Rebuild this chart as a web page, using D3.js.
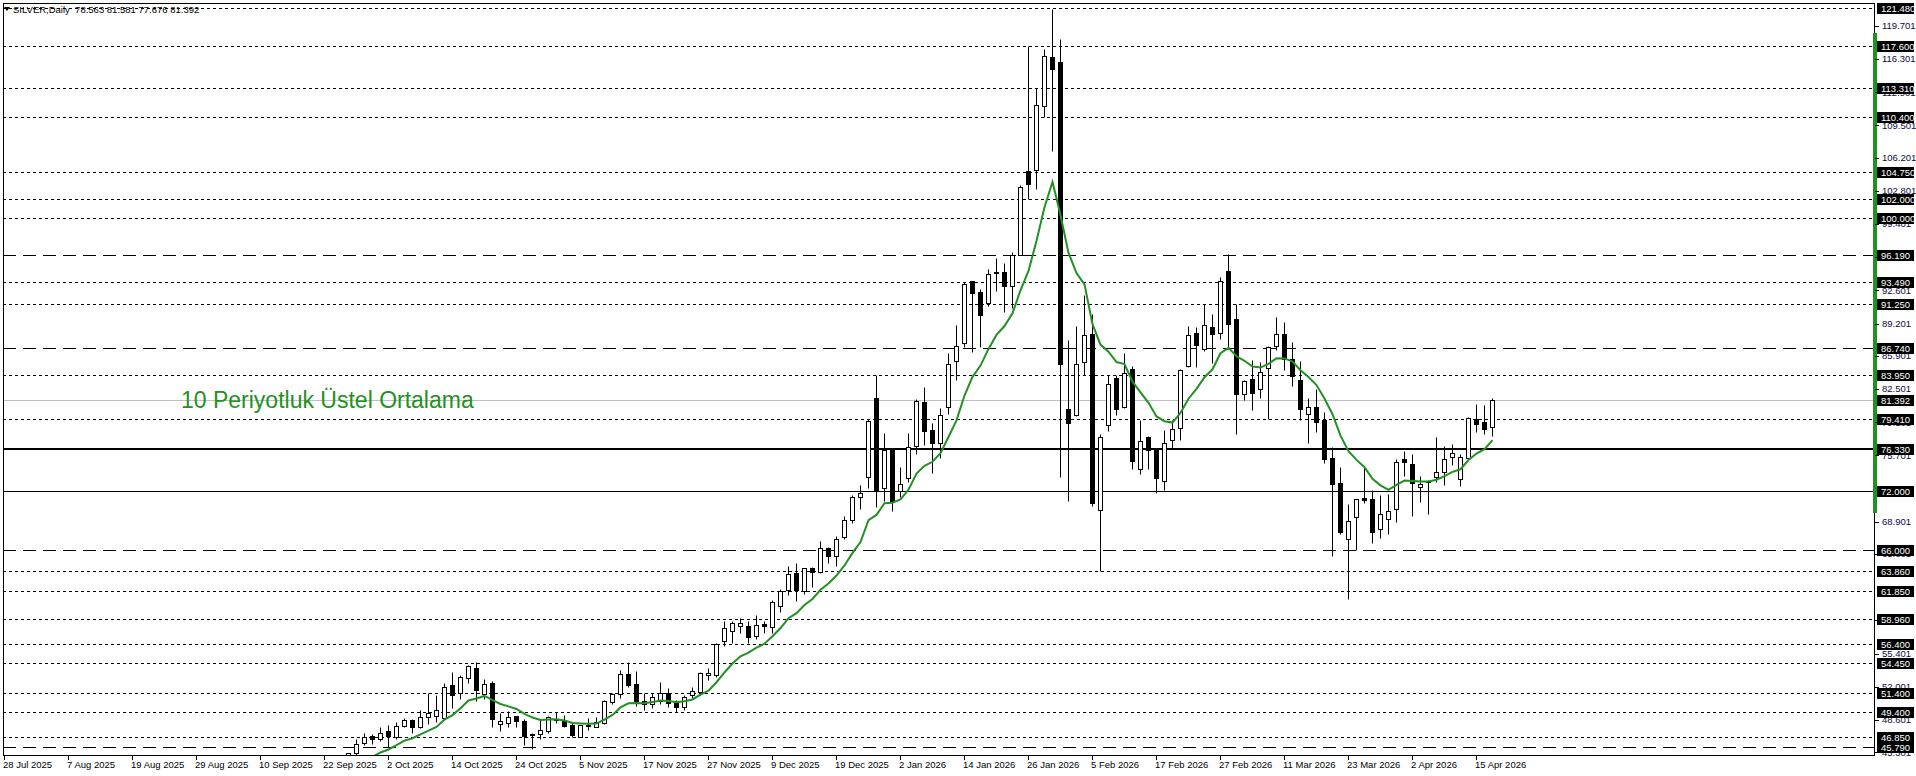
<!DOCTYPE html>
<html>
<head>
<meta charset="utf-8">
<script src="https://cdn.jsdelivr.net/npm/d3@7"></script>
<style>
  html, body { margin: 0; padding: 0; background: #fff; overflow: hidden; }
  svg { display: block; font-family: "Liberation Sans", Arial, sans-serif; }
</style>
</head>
<body>
<svg id="chart" width="1916" height="776"></svg>
<script>
// bar 0 = 28 Jul 2025, one bar per trading day; data starts at bar 32
const firstBar = 32;

const opens = [
  41.0, 41.3, 41.7, 42.3, 42.6, 42.7, 42.0, 41.8, 43.1, 43.9, 44.1,
  44.1, 45.18, 46.20, 46.92, 46.61, 47.43, 46.89, 47.98, 48.59, 47.84,
  48.87, 49.04, 48.76, 52.18, 51.39, 52.86, 53.92, 51.29, 52.35, 48.22,
  48.32, 49.00, 48.49, 47.10, 47.13, 47.50, 48.59, 48.56, 48.05, 46.89,
  47.95, 47.91, 48.32, 50.44, 51.22, 53.30, 52.28, 50.57, 50.20, 50.50,
  51.39, 50.30, 49.90, 51.12, 51.43, 53.17, 53.20, 56.72, 57.74, 58.22,
  58.25, 57.20, 58.43, 58.15, 60.23, 61.91, 63.61, 61.80, 64.13, 63.72,
  66.18, 65.43, 67.37, 69.04, 71.40, 73.45, 81.54, 72.32, 76.28, 72.01,
  73.41, 76.67, 81.18, 78.33, 77.01, 80.65, 85.39, 87.24, 93.53, 92.46,
  91.33, 94.40, 94.47, 93.03, 96.25, 104.78, 104.97, 111.48, 116.52, 116.03,
  80.46, 79.80, 85.27, 88.10, 70.06, 78.84, 83.59, 80.65, 84.58, 74.33,
  77.58, 76.28, 73.07, 77.23, 78.53, 84.89, 88.27, 86.63, 88.85, 88.27,
  94.58, 89.70, 82.02, 83.52, 82.46, 84.68, 86.90, 88.10, 85.60, 83.45,
  79.90, 80.68, 79.32, 75.46, 72.90, 67.10, 69.42, 71.30, 71.19, 68.19,
  69.14, 70.17, 75.32, 74.81, 72.42, 72.95, 73.52, 74.03, 75.50, 73.24,
  75.39, 79.42, 79.08, 78.563
];
const highs = [
  41.6, 41.9, 42.5, 42.9, 43.1, 42.9, 42.3, 43.3, 44.2, 44.5, 44.4,
  45.25, 46.61, 47.23, 47.13, 47.84, 48.08, 48.35, 48.83, 48.70, 49.58,
  51.39, 51.15, 52.35, 53.51, 53.20, 54.19, 54.50, 52.76, 52.55, 49.31,
  49.48, 49.05, 48.70, 47.30, 48.59, 49.00, 49.38, 49.07, 48.25, 48.08,
  48.76, 48.94, 50.64, 51.39, 53.71, 54.50, 53.61, 51.32, 51.32, 52.45,
  51.84, 50.60, 51.20, 52.01, 53.50, 53.88, 56.51, 58.77, 58.70, 59.00,
  58.77, 59.35, 58.73, 60.88, 62.01, 64.37, 64.64, 64.13, 64.30, 66.96,
  66.35, 67.44, 69.49, 71.64, 72.66, 79.42, 83.89, 77.95, 76.30, 74.55,
  77.96, 81.48, 82.73, 79.02, 80.53, 86.22, 89.06, 93.41, 93.55, 92.77,
  94.74, 95.87, 95.42, 96.56, 103.34, 117.66, 113.30, 117.28, 121.44, 118.30,
  87.54, 88.98, 92.09, 90.19, 77.92, 83.89, 83.89, 86.22, 84.82, 79.35,
  77.68, 76.50, 78.26, 79.35, 84.58, 88.92, 88.80, 91.24, 90.21, 93.97,
  96.29, 91.24, 83.40, 85.43, 85.26, 86.87, 89.87, 89.36, 87.34, 85.33,
  81.54, 82.46, 80.10, 76.59, 74.47, 70.68, 71.19, 74.54, 72.15, 71.64,
  71.74, 75.29, 76.14, 75.84, 73.58, 73.17, 77.61, 76.66, 76.86, 75.84,
  79.59, 80.96, 80.86, 81.581
];
const lows = [
  40.8, 41.1, 41.5, 42.1, 42.3, 41.7, 41.5, 41.7, 42.9, 43.6, 43.5,
  43.9, 45.0, 46.0, 46.14, 46.40, 45.80, 46.61, 47.90, 47.30, 47.74,
  48.22, 48.42, 48.60, 49.86, 50.78, 52.42, 50.57, 50.78, 47.84, 47.50,
  47.84, 47.84, 46.07, 45.59, 46.61, 47.23, 48.32, 47.91, 46.89, 46.85,
  47.57, 47.84, 48.20, 50.23, 50.85, 52.01, 50.06, 49.60, 49.80, 50.20,
  49.90, 49.40, 49.60, 50.81, 51.20, 52.69, 53.00, 56.21, 56.51, 57.54,
  56.44, 56.86, 57.47, 57.54, 59.69, 61.40, 60.82, 61.55, 62.18, 63.60,
  64.64, 64.40, 67.10, 68.80, 70.17, 72.32, 70.44, 71.06, 70.05, 71.44,
  72.96, 75.87, 76.75, 73.91, 75.42, 79.96, 83.45, 86.78, 86.29, 86.78,
  91.03, 92.54, 90.38, 90.76, 96.20, 101.94, 102.96, 110.34, 106.86, 73.45,
  71.06, 79.69, 83.98, 70.49, 63.85, 78.19, 79.80, 80.60, 74.33, 73.82,
  74.33, 71.84, 72.18, 76.38, 77.30, 84.80, 84.75, 86.39, 85.16, 87.65,
  86.63, 77.85, 81.33, 80.38, 81.61, 79.39, 86.46, 84.41, 82.80, 79.35,
  77.00, 78.12, 74.88, 65.42, 67.61, 60.95, 66.00, 70.85, 66.69, 67.27,
  67.61, 68.91, 73.62, 69.49, 70.95, 69.69, 73.00, 72.66, 74.71, 72.56,
  75.30, 78.12, 77.89, 77.676
];
const closes = [
  41.3, 41.7, 42.3, 42.6, 42.7, 42.0, 41.8, 43.1, 43.9, 44.1, 44.0,
  45.18, 46.10, 46.89, 46.61, 47.30, 46.95, 47.98, 48.59, 47.84, 48.87,
  49.31, 49.58, 51.97, 51.19, 53.00, 54.12, 51.70, 52.25, 48.66, 48.49,
  48.87, 48.52, 46.95, 47.16, 47.53, 48.87, 48.73, 48.01, 47.09, 48.05,
  48.05, 48.35, 50.51, 51.26, 53.30, 52.18, 50.57, 50.20, 50.90, 51.32,
  50.30, 49.90, 50.90, 51.56, 53.37, 53.41, 56.38, 57.98, 58.49, 58.49,
  57.13, 58.32, 58.19, 60.64, 61.80, 63.51, 61.91, 64.13, 63.75, 66.18,
  65.43, 67.10, 69.08, 71.47, 71.81, 79.18, 72.01, 76.21, 71.06, 72.77,
  76.56, 81.29, 78.18, 76.94, 79.85, 85.08, 86.90, 93.30, 92.35, 90.08,
  94.28, 94.50, 93.03, 96.18, 103.19, 103.45, 111.59, 116.63, 115.27, 85.08,
  79.02, 85.08, 87.99, 70.80, 77.61, 83.04, 80.48, 84.17, 75.12, 77.20,
  76.28, 73.41, 76.99, 78.43, 84.48, 88.06, 87.04, 89.09, 88.16, 93.56,
  89.19, 81.95, 83.32, 82.12, 84.24, 86.80, 88.16, 85.60, 83.79, 80.48,
  80.62, 79.15, 75.29, 72.73, 67.81, 69.01, 71.19, 71.16, 67.88, 69.66,
  70.03, 75.05, 75.05, 72.90, 72.73, 73.02, 74.03, 75.29, 75.91, 75.50,
  79.49, 78.88, 78.36, 81.392
];

// date labels, one every 8 bars from bar 0
const dateLabels = [
  "28 Jul 2025", "7 Aug 2025", "19 Aug 2025", "29 Aug 2025", "10 Sep 2025",
  "22 Sep 2025", "2 Oct 2025", "14 Oct 2025", "24 Oct 2025", "5 Nov 2025",
  "17 Nov 2025", "27 Nov 2025", "9 Dec 2025", "19 Dec 2025", "2 Jan 2026",
  "14 Jan 2026", "26 Jan 2026", "5 Feb 2026", "17 Feb 2026", "27 Feb 2026",
  "11 Mar 2026", "23 Mar 2026", "2 Apr 2026", "15 Apr 2026"
];
// scale ticks that are not fully covered by the level boxes
const priceTicks = [
  119.701, 116.301, 112.901, 109.501, 106.201, 102.801, 99.401, 96.001,
  92.601, 89.201, 85.901, 82.501, 79.101, 75.701, 68.901, 65.601,
  58.801, 55.401, 52.001, 48.601, 45.301
];
const dotLevels = [
  121.48, 117.6, 113.31, 110.4, 104.75, 102.0, 100.0, 93.49, 91.25, 83.95,
  79.41, 63.86, 61.85, 58.96, 56.4, 54.45, 51.4, 49.4, 46.85
];
const dashLevels = [96.19, 86.74, 66.0, 45.79];
const boldLevel = 76.33;
const thinLevel = 72.0;
const bidPrice = 81.392;
const emaPeriod = 10;
const headerText = "SILVER,Daily  78.563 81.581 77.676 81.392";
const emaNote = "10 Periyotluk Üstel Ortalama";

const green = "#239023";
const plot = { left: 3, top: 3, right: 1874, bottom: 755 };
const svg = d3.select("#chart");

const x = d3.scaleLinear().domain([0, 233]).range([4, 4 + 233 * 8]);
const y = d3.scaleLinear().domain([45.01, 122.03]).range([plot.bottom, plot.top]);
const px = (v) => Math.round(v) + 0.5;

svg.append("rect").attr("width", 1916).attr("height", 776).attr("fill", "#fff");
svg.append("defs").append("clipPath").attr("id", "clip")
  .append("rect")
  .attr("x", plot.left).attr("y", plot.top)
  .attr("width", plot.right - plot.left).attr("height", plot.bottom - plot.top);

const bars = opens.map((o, i) => ({
  i: firstBar + i, o, h: highs[i], l: lows[i], c: closes[i]
}));

// level lines
const levels = svg.append("g").attr("clip-path", "url(#clip)");
levels.append("line")
  .attr("x1", plot.left).attr("x2", plot.right)
  .attr("y1", px(y(bidPrice))).attr("y2", px(y(bidPrice)))
  .attr("stroke", "#c0c0c0");
levels.selectAll(".dot").data(dotLevels).join("line")
  .attr("x1", plot.left).attr("x2", plot.right)
  .attr("y1", (d) => px(y(d))).attr("y2", (d) => px(y(d)))
  .attr("stroke", "#000").attr("stroke-dasharray", "3,3");
levels.selectAll(".dash").data(dashLevels).join("line")
  .attr("x1", plot.left).attr("x2", plot.right)
  .attr("y1", (d) => px(y(d))).attr("y2", (d) => px(y(d)))
  .attr("stroke", "#000").attr("stroke-dasharray", "13,7");
levels.append("line")
  .attr("x1", plot.left).attr("x2", plot.right)
  .attr("y1", px(y(thinLevel))).attr("y2", px(y(thinLevel)))
  .attr("stroke", "#000");
levels.append("line")
  .attr("x1", plot.left).attr("x2", plot.right)
  .attr("y1", Math.round(y(boldLevel))).attr("y2", Math.round(y(boldLevel)))
  .attr("stroke", "#000").attr("stroke-width", 2);

// candles
const candles = svg.append("g").attr("clip-path", "url(#clip)");
const cg = candles.selectAll("g").data(bars).join("g");
cg.append("line")
  .attr("x1", (d) => x(d.i) + 0.5).attr("x2", (d) => x(d.i) + 0.5)
  .attr("y1", (d) => px(y(d.h))).attr("y2", (d) => px(y(d.l)))
  .attr("stroke", "#000");
cg.each(function (d) {
  const g = d3.select(this);
  const top = px(y(Math.max(d.o, d.c)));
  const bot = px(y(Math.min(d.o, d.c)));
  if (bot - top < 1) {
    g.append("line")
      .attr("x1", x(d.i) - 2).attr("x2", x(d.i) + 3)
      .attr("y1", top).attr("y2", top)
      .attr("stroke", "#000");
  } else {
    g.append("rect")
      .attr("x", x(d.i) - 1.5).attr("width", 4)
      .attr("y", top).attr("height", bot - top)
      .attr("fill", d.c >= d.o ? "#fff" : "#000")
      .attr("stroke", "#000");
  }
});

// exponential moving average of closes
const ema = [];
closes.forEach((c, i) => {
  ema.push(i === 0 ? c : ema[i - 1] + (c - ema[i - 1]) * 2 / (emaPeriod + 1));
});
candles.append("path")
  .datum(ema)
  .attr("fill", "none")
  .attr("stroke", green)
  .attr("stroke-width", 2)
  .attr("d", d3.line().x((d, i) => x(firstBar + i) + 0.5).y((d) => y(d)));

// frame
svg.append("rect")
  .attr("x", plot.left + 0.5).attr("y", plot.top + 0.5)
  .attr("width", plot.right - plot.left).attr("height", plot.bottom - plot.top)
  .attr("fill", "none").attr("stroke", "#000");
svg.append("rect")
  .attr("x", plot.right - 1).attr("y", 33).attr("width", 4).attr("height", 480)
  .attr("fill", green);

// annotation and header
svg.append("text")
  .attr("x", 181).attr("y", 408)
  .attr("font-size", 23).attr("fill", green)
  .text(emaNote);
svg.append("path").attr("d", "M4,7 L10,7 L7,11 Z").attr("fill", "#000");
svg.append("text")
  .attr("x", 13).attr("y", 12.5)
  .attr("font-size", 9.5).attr("fill", "#000")
  .style("white-space", "pre")
  .text(headerText);

// price axis
const fmt = d3.format(".3f");
const pa = svg.append("g").attr("font-size", 9.5);
pa.selectAll("line.t").data(priceTicks).join("line")
  .attr("x1", plot.right + 1).attr("x2", plot.right + 5)
  .attr("y1", (d) => px(y(d))).attr("y2", (d) => px(y(d)))
  .attr("stroke", "#000");
pa.selectAll("text.t").data(priceTicks).join("text")
  .attr("x", plot.right + 8).attr("y", (d) => y(d) + 3.5)
  .attr("fill", "#0a0a40")
  .text(fmt);
const boxed = [...dotLevels, ...dashLevels, boldLevel, thinLevel, bidPrice];
const bx = pa.selectAll("g.b").data(boxed).join("g");
bx.append("rect")
  .attr("x", plot.right + 3).attr("width", 37)
  .attr("y", (d) => Math.round(y(d)) - 5).attr("height", 11)
  .attr("fill", "#000");
bx.append("text")
  .attr("x", plot.right + 7).attr("y", (d) => Math.round(y(d)) + 4)
  .attr("fill", "#fff")
  .text(fmt);

// date axis
const ta = svg.append("g").attr("font-size", 9.5);
const dateTicks = dateLabels.map((label, k) => ({ label, i: k * 8 }));
ta.selectAll("line").data(dateTicks).join("line")
  .attr("x1", (d) => x(d.i) + 0.5).attr("x2", (d) => x(d.i) + 0.5)
  .attr("y1", plot.bottom + 1).attr("y2", plot.bottom + 5)
  .attr("stroke", "#000");
ta.selectAll("text").data(dateTicks).join("text")
  .attr("x", (d) => x(d.i) - 1).attr("y", 768)
  .attr("fill", "#000")
  .text((d) => d.label);
</script>
</body>
</html>
